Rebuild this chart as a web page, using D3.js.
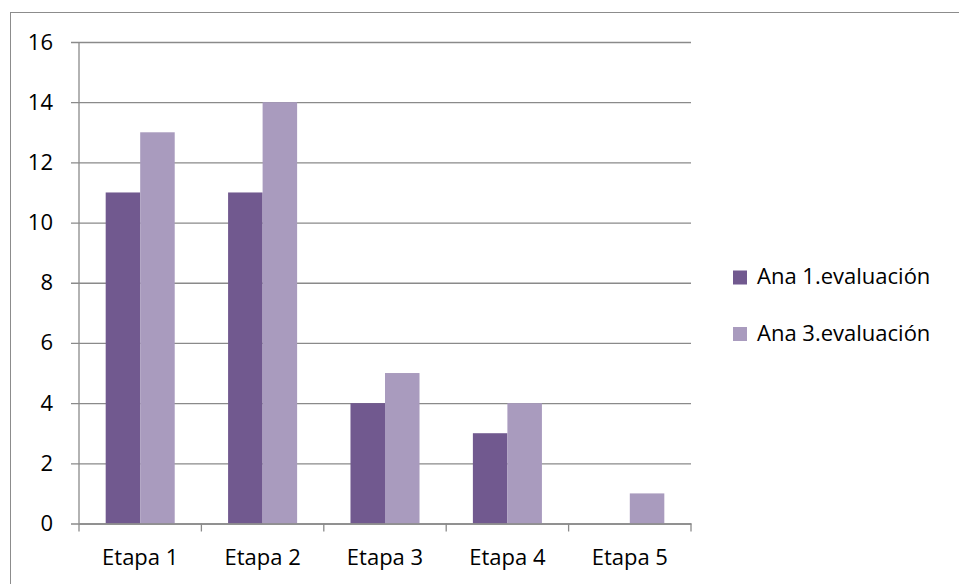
<!DOCTYPE html>
<html>
<head>
<meta charset="utf-8">
<script src="https://cdn.jsdelivr.net/npm/d3@7/dist/d3.min.js"></script>
<style>
  html, body { margin: 0; padding: 0; background: #fff; }
  svg { display: block; }
  text { font-family: "Open Sans", sans-serif; fill: #000; }
</style>
</head>
<body>
<svg id="chart" width="959" height="584"></svg>
<script>
// Categories, series and axis ticks
const categories = ["Etapa 1", "Etapa 2", "Etapa 3", "Etapa 4", "Etapa 5"];
const seriesNames = ["Ana 1.evaluación", "Ana 3.evaluación"];
const ana1 = [11, 11, 4, 3, 0];
const ana3 = [13, 14, 5, 4, 1];
const yTicks = [0, 2, 4, 6, 8, 10, 12, 14, 16];
const colors = ["#71598F", "#A99BBE"];

const svg = d3.select("#chart");
const W = 959, H = 584;
const FONT = "'Open Sans', sans-serif";
const FS = "22px";

// chart frame
svg.append("rect")
  .attr("x", 10.5).attr("y", 12.5)
  .attr("width", W).attr("height", H)
  .attr("fill", "none").attr("stroke", "#8c8c8c").attr("stroke-width", 1);

const plot = { left: 79, right: 691, top: 42, bottom: 523.5 };

const y = d3.scaleLinear().domain([0, 16]).range([plot.bottom, plot.top]);
const x0 = d3.scaleBand().domain(categories)
  .range([plot.left, plot.right])
  .paddingInner(0.436).paddingOuter(0.218);
const x1 = d3.scaleBand().domain(seriesNames).range([0, x0.bandwidth()]);

const gridColor = "#8a8a8a";

// horizontal gridlines with tick stubs
const yAxis = d3.axisLeft(y).tickValues(yTicks)
  .tickSize(-(plot.right - plot.left)).tickSizeOuter(0);
const gy = svg.append("g").attr("transform", `translate(${plot.left},0)`).call(yAxis);
gy.select(".domain").remove();
gy.selectAll(".tick line")
  .attr("x1", -8)
  .attr("stroke", gridColor).attr("stroke-width", 1.3);
gy.selectAll(".tick text")
  .attr("x", -26)
  .style("font-size", FS).style("font-family", FONT)
  .attr("fill", "#000");

// y axis line
svg.append("line")
  .attr("x1", plot.left).attr("x2", plot.left)
  .attr("y1", y(16)).attr("y2", y(0))
  .attr("stroke", gridColor).attr("stroke-width", 1.3);

// bars
const rows = categories.map((c, i) => ({ cat: c, vals: [ana1[i], ana3[i]] }));
const groups = svg.append("g").selectAll("g").data(rows).join("g")
  .attr("transform", d => `translate(${x0(d.cat)},0)`);
groups.selectAll("rect")
  .data(d => d.vals.map((v, j) => ({ name: seriesNames[j], v, j })))
  .join("rect")
  .attr("x", d => x1(d.name))
  .attr("width", x1.bandwidth())
  .attr("y", d => y(d.v))
  .attr("height", d => y(0) - y(d.v))
  .attr("fill", d => colors[d.j]);

// category axis
const step = x0.step();
const xAxis = d3.axisBottom(x0).tickSize(0).tickPadding(26);
const gx = svg.append("g").attr("transform", `translate(0,${plot.bottom})`).call(xAxis);
gx.select(".domain").attr("stroke", gridColor).attr("stroke-width", 1.3);
gx.selectAll(".tick text")
  .style("font-size", FS).style("font-family", FONT)
  .attr("fill", "#000");
// boundary ticks between categories
const bounds = d3.range(categories.length + 1).map(i => plot.left + i * step);
svg.append("g").selectAll("line").data(bounds).join("line")
  .attr("x1", d => d).attr("x2", d => d)
  .attr("y1", plot.bottom).attr("y2", plot.bottom + 8)
  .attr("stroke", gridColor).attr("stroke-width", 1.3);

// legend
const legend = svg.append("g").attr("transform", "translate(733,270.5)");
const li = legend.selectAll("g").data(seriesNames).join("g")
  .attr("transform", (d, i) => `translate(0,${i * 56.5})`);
li.append("rect").attr("width", 14).attr("height", 14)
  .attr("fill", (d, i) => colors[i]);
li.append("text").attr("x", 24).attr("y", 13.5)
  .style("font-size", FS).style("font-family", FONT).text(d => d);
</script>
</body>
</html>
